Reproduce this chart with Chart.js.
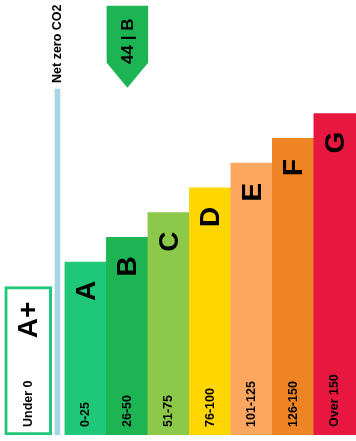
<!DOCTYPE html>
<html>
<head>
<meta charset="utf-8">
<script src="https://cdn.jsdelivr.net/npm/chart.js@4"></script>
<style>
  html, body { margin: 0; padding: 0; background: #fff; }
  #wrap { width: 356px; height: 441px; position: relative; }
</style>
</head>
<body>
<div id="wrap"><canvas id="epcChart"></canvas></div>
<script>
// bands, left to right
var ratings = ["A", "B", "C", "D", "E", "F", "G"];
var ranges = ["0-25", "26-50", "51-75", "76-100", "101-125", "126-150", "Over 150"];
var barHeights = [7, 8, 9, 10, 11, 12, 13];
var barColors = ["#1ec878", "#1db454", "#8cc94a", "#ffd600", "#fda65f", "#ef8424", "#e8173f"];

// extra band below zero, and the net zero marker
var plusLabel = "A+";
var plusRange = "Under 0";
var plusHeight = 6;
var netZeroLabel = "Net zero CO2";
var netZeroHeight = 14;

// current score
var currentScore = 44;
var currentRating = "B";

var fontName = "'Liberation Sans', Arial, sans-serif";
var plusX = -1.39;
var netZeroX = -0.685;

function rotText(ctx, txt, x, y, size, align) {
	ctx.save();
	ctx.translate(x, y);
	ctx.rotate(-Math.PI / 2);
	ctx.font = "bold " + size + "px " + fontName;
	ctx.textAlign = align;
	ctx.textBaseline = "middle";
	ctx.fillStyle = "#000";
	ctx.fillText(txt, 0, 0);
	ctx.restore();
}

var labelPlugin = {
	id: "epcLabels",
	afterDatasetsDraw: function(chart) {
		var ctx = chart.ctx;
		var xs = chart.scales.x;
		var ys = chart.scales.y;
		var bottom = ys.getPixelForValue(0);

		ratings.forEach(function(r, i) {
			var x = xs.getPixelForValue(i);
			var top = ys.getPixelForValue(barHeights[i]);
			rotText(ctx, r, x + 1, top + 29, 28, "center");
			rotText(ctx, ranges[i], x, bottom - 8, 12.5, "left");
		});

		// A+ box
		var px = xs.getPixelForValue(plusX);
		rotText(ctx, plusLabel, px + 1, 320, 28, "center");
		rotText(ctx, plusRange, px, bottom - 8, 12.5, "left");

		// net zero label
		var nx = xs.getPixelForValue(netZeroX);
		rotText(ctx, netZeroLabel, nx, ys.getPixelForValue(netZeroHeight) - 6, 12.5, "left");

		// current score arrow
		var idx = ratings.indexOf(currentRating);
		var cx = xs.getPixelForValue(idx);
		var half = (xs.getPixelForValue(idx + 1) - cx) / 2;
		var tip = ys.getPixelForValue(14.05);
		var shoulder = ys.getPixelForValue(15.06);
		var topY = ys.getPixelForValue(17.37);
		ctx.save();
		ctx.fillStyle = barColors[idx];
		ctx.beginPath();
		ctx.moveTo(cx - half, topY);
		ctx.lineTo(cx + half, topY);
		ctx.lineTo(cx + half, shoulder);
		ctx.lineTo(cx, tip);
		ctx.lineTo(cx - half, shoulder);
		ctx.closePath();
		ctx.fill();
		ctx.restore();
		rotText(ctx, currentScore + " | " + currentRating, cx + 1, (topY + shoulder) / 2 + 7, 17, "center");
	}
};

document.addEventListener("DOMContentLoaded", function() {
	new Chart("epcChart", {
		type: "bar",
		data: {
			datasets: [
				{
					data: ratings.map(function(r, i) { return { x: i, y: barHeights[i] }; }),
					backgroundColor: barColors,
					borderWidth: 0,
					barThickness: 42
				},
				{
					data: [{ x: plusX, y: plusHeight }],
					backgroundColor: "#ffffff",
					borderColor: "#1ec878",
					borderWidth: 3,
					borderSkipped: false,
					barThickness: 47
				},
				{
					data: [{ x: netZeroX, y: netZeroHeight }],
					backgroundColor: "#a9d6e5",
					borderWidth: 0,
					barThickness: 5
				}
			]
		},
		options: {
			responsive: true,
			maintainAspectRatio: false,
			animation: false,
			grouped: false,
			layout: { padding: { left: 0, right: 0, top: 0, bottom: 6 } },
			plugins: {
				legend: { display: false },
				tooltip: { enabled: false }
			},
			scales: {
				x: { type: "linear", min: -2.07, max: 6.51, offset: false, display: false },
				y: { min: 0, max: 17.6, display: false }
			}
		},
		plugins: [labelPlugin]
	});
});
</script>
</body>
</html>
